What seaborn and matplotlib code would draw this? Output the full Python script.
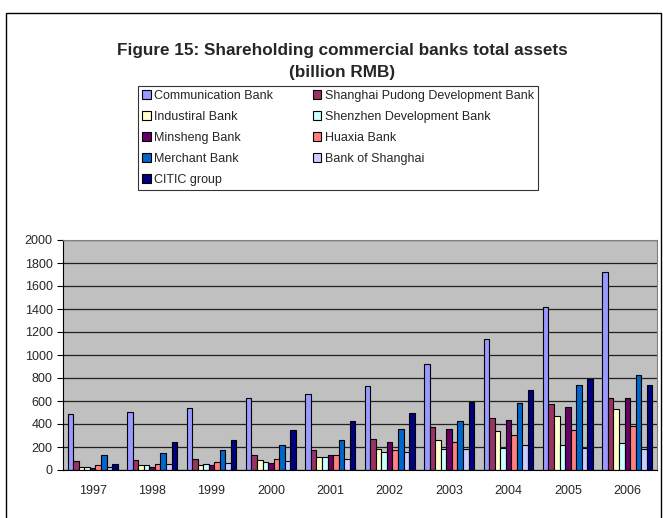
import matplotlib
matplotlib.use("Agg")
import matplotlib.pyplot as plt
import seaborn as sns
import pandas as pd
import numpy as np
from matplotlib.patches import Patch, Rectangle

years = ["1997", "1998", "1999", "2000", "2001", "2002", "2003", "2004", "2005", "2006"]

banks = [
    "Communication Bank",
    "Shanghai Pudong Development Bank",
    "Industiral Bank",
    "Shenzhen Development Bank",
    "Minsheng Bank",
    "Huaxia Bank",
    "Merchant Bank",
    "Bank of Shanghai",
    "CITIC group",
]

communication = [484, 504, 536, 625, 658, 727, 925, 1138, 1420, 1722]
spdb = [78, 90, 96, 128, 171, 270, 371, 448, 571, 625]
industrial = [30, 40, 45, 90, 116, 183, 261, 338, 470, 527]
shenzhen = [25, 45, 50, 70, 116, 160, 183, 193, 215, 239]
minsheng = [20, 30, 40, 65, 128, 240, 360, 437, 550, 625]
huaxia = [40, 55, 70, 100, 128, 171, 240, 303, 350, 383]
merchant = [128, 151, 171, 215, 261, 360, 426, 582, 736, 823]
bank_of_shanghai = [30, 55, 65, 80, 96, 160, 183, 215, 195, 180]
citic = [50, 241, 261, 350, 428, 495, 595, 692, 793, 736]

colors = ["#9999FF", "#993366", "#FFFFCC", "#CCFFFF", "#660066",
          "#FF8080", "#0066CC", "#CCCCFF", "#000080"]

series = [communication, spdb, industrial, shenzhen, minsheng,
          huaxia, merchant, bank_of_shanghai, citic]

rows = []
for bank, vals in zip(banks, series):
    for yr, v in zip(years, vals):
        rows.append({"year": yr, "bank": bank, "assets": v})
df = pd.DataFrame(rows)

sns.set_style("white")
plt.rcParams["font.family"] = ["Liberation Sans", "DejaVu Sans"]

fig = plt.figure(figsize=(6.63, 5.18), dpi=100)
ax = fig.add_axes([63 / 663, 1 - 470 / 518, 594 / 663, 230 / 518])
ax.set_facecolor("#C0C0C0")

sns.barplot(data=df, x="year", y="assets", hue="bank", order=years,
            hue_order=banks, palette=colors, width=0.84,
            edgecolor="black", linewidth=0.8, saturation=1,
            legend=False, ax=ax)

ax.set_ylim(0, 2000)
ax.set_xlim(-0.5, 9.5)
ax.set_yticks(np.arange(0, 2001, 200))
ax.yaxis.grid(True, color="#202020", linewidth=0.9)
ax.set_axisbelow(True)
ax.set_xlabel("")
ax.set_ylabel("")

ax.set_xticks(range(len(years)))
ax.set_xticklabels(years)
ax.tick_params(axis="x", length=0, labelsize=9, pad=11)
ax.set_xticks(np.arange(-0.5, 10, 1), minor=True)
ax.tick_params(axis="x", which="minor", length=4, direction="out", color="black")
ax.tick_params(axis="y", length=4, direction="out", labelsize=9, color="black", left=True)

for side in ["top", "right"]:
    ax.spines[side].set_color("#808080")
for side in ["left", "bottom"]:
    ax.spines[side].set_color("black")

fig.text(0.516, 1 - 51 / 518, "Figure 15: Shareholding commercial banks total assets",
         ha="center", va="center", fontsize=12.3, fontweight="bold")
fig.text(0.516, 1 - 73 / 518, "(billion RMB)",
         ha="center", va="center", fontsize=12.3, fontweight="bold")

handles = [Patch(facecolor=c, edgecolor="black", linewidth=0.8) for c in colors]
order = [0, 2, 4, 6, 8, 1, 3, 5, 7]
leg = fig.legend([handles[i] for i in order], [banks[i] for i in order],
                 ncol=2, loc="upper left",
                 bbox_to_anchor=(138 / 663, 1 - 91 / 518, 400 / 663, 5 / 518),
                 mode="expand", fontsize=9, frameon=True, fancybox=False,
                 edgecolor="black", handlelength=0.7, handleheight=0.7,
                 handletextpad=0.3, borderpad=0.3, labelspacing=0.72,
                 borderaxespad=0)
leg.get_frame().set_linewidth(0.8)

fig.patches.append(Rectangle((6 / 663, -0.05), 655 / 663, 1.05 - 13 / 518,
                             transform=fig.transFigure, fill=False,
                             edgecolor="black", linewidth=1))

fig.savefig("out.png", dpi=100)
